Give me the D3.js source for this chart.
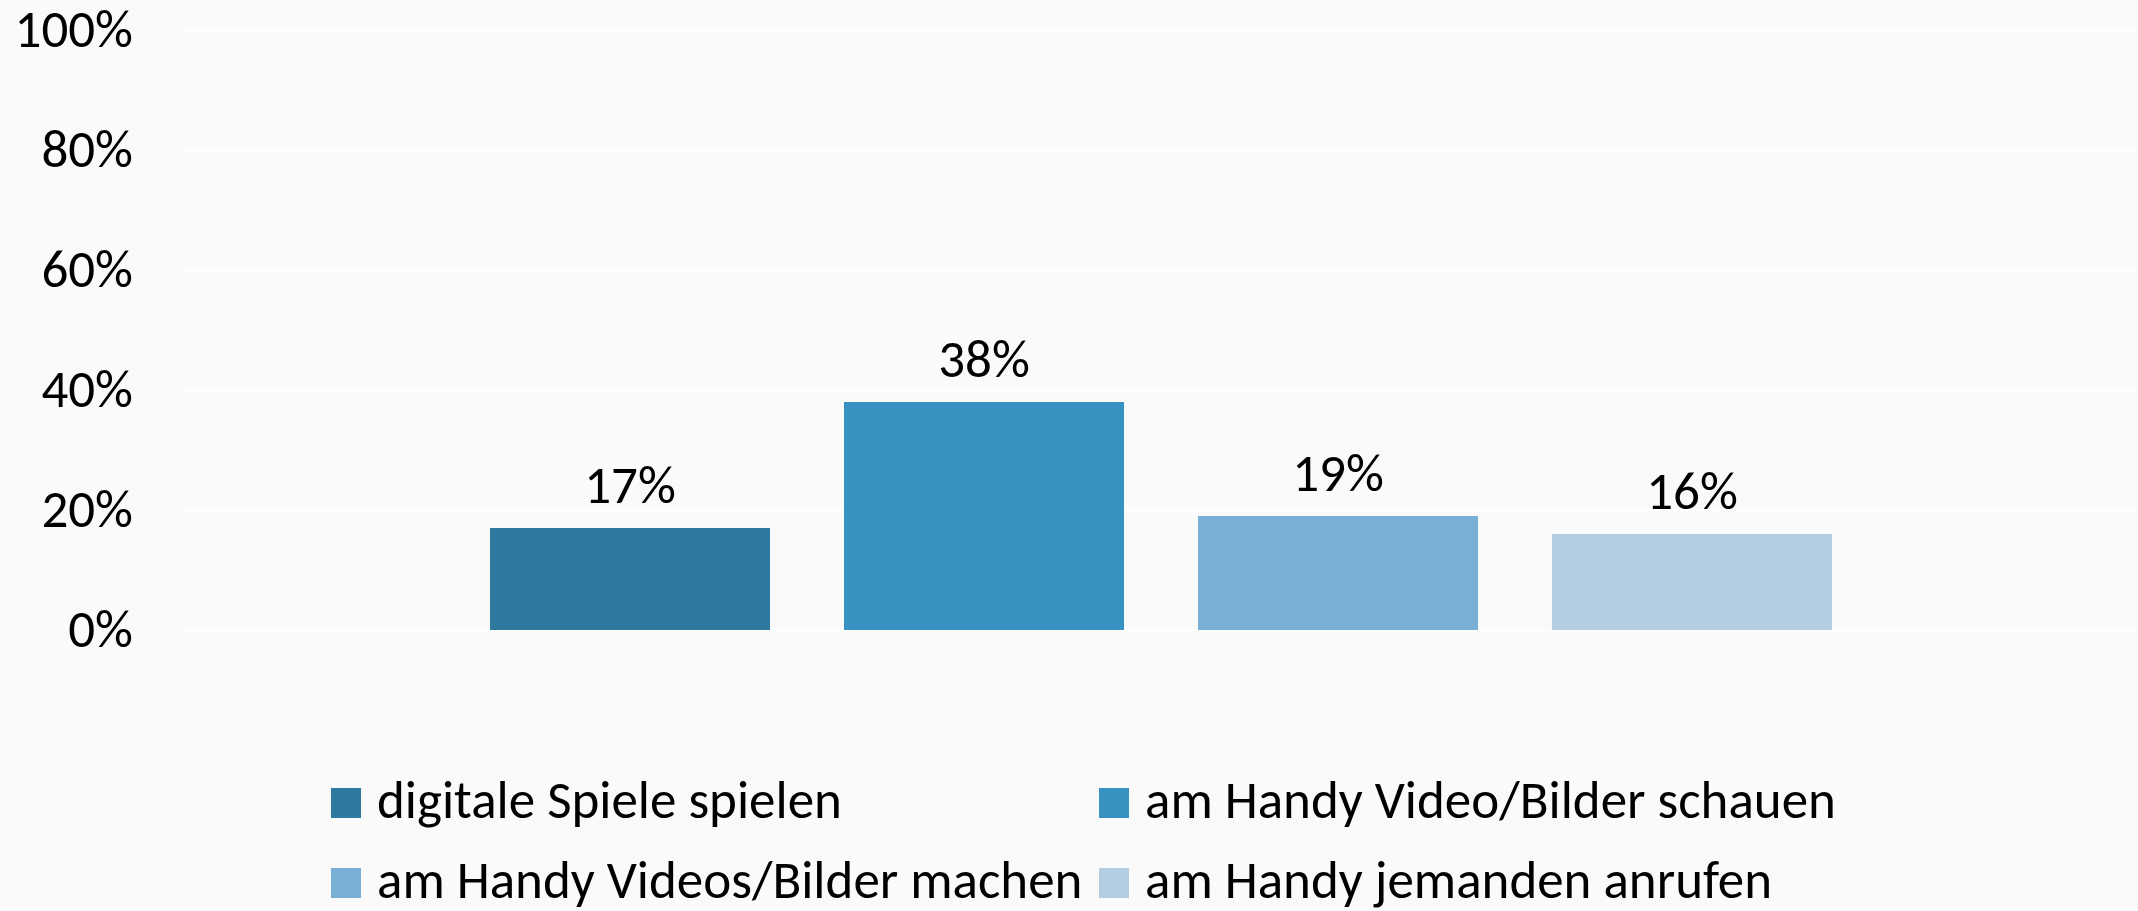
<!DOCTYPE html>
<html>
<head>
<meta charset="utf-8">
<script src="https://cdn.jsdelivr.net/npm/d3@7"></script>
<style>
  html, body { margin: 0; padding: 0; background: #fafafa; }
  svg { display: block; font-family: Carlito, Calibri, Lato, sans-serif; }
</style>
</head>
<body>
<div id="chart"></div>
<script>
// categorie e valori (quota in percentuale)
const categorie = [
  'digitale Spiele spielen',
  'am Handy Video/Bilder schauen',
  'am Handy Videos/Bilder machen',
  'am Handy jemanden anrufen'
];
const valori = [0.17, 0.38, 0.19, 0.16];
const colori = ['#2e79a0', '#3792c1', '#79afd5', '#b3cde3'];
const tickY = [0, 0.2, 0.4, 0.6, 0.8, 1];

const width = 2138, height = 911;
const margin = { top: 30, right: 0, bottom: 281, left: 184 };
const fontSize = 53;

const svg = d3.select('#chart').append('svg')
  .attr('width', width)
  .attr('height', height);

svg.append('rect')
  .attr('width', width).attr('height', height)
  .attr('fill', '#fafafa');

const x = d3.scaleBand()
  .domain(categorie)
  .range([margin.left, width - margin.right])
  .paddingInner(0.209)
  .paddingOuter(0.8645);

const y = d3.scaleLinear()
  .domain([0, 1])
  .range([height - margin.bottom, margin.top]);

// griglia orizzontale bianca
svg.append('g')
  .selectAll('line')
  .data(tickY)
  .join('line')
  .attr('x1', margin.left).attr('x2', width)
  .attr('y1', d => y(d)).attr('y2', d => y(d))
  .attr('stroke', '#ffffff')
  .attr('stroke-width', 1.5);

// asse y solo etichette
const asseY = svg.append('g')
  .attr('transform', `translate(${margin.left},0)`)
  .call(d3.axisLeft(y).tickValues(tickY).tickFormat(d3.format('.0%')).tickSize(0).tickPadding(51));
asseY.select('.domain').remove();
asseY.selectAll('text')
  .attr('font-family', 'Carlito, Calibri, Lato, sans-serif')
  .attr('font-size', fontSize)
  .attr('fill', '#000');

// barre
svg.append('g')
  .selectAll('rect')
  .data(valori)
  .join('rect')
  .attr('x', (d, i) => x(categorie[i]))
  .attr('y', d => y(d))
  .attr('width', x.bandwidth())
  .attr('height', d => y(0) - y(d))
  .attr('fill', (d, i) => colori[i]);

// etichette sopra le barre
svg.append('g')
  .selectAll('text')
  .data(valori)
  .join('text')
  .attr('x', (d, i) => x(categorie[i]) + x.bandwidth() / 2)
  .attr('y', d => y(d) - 25)
  .attr('text-anchor', 'middle')
  .attr('font-size', fontSize)
  .attr('fill', '#000')
  .text(d => d3.format('.0%')(d));

// legenda 2x2 (alzata di poco per non tagliare i discendenti)
const legenda = svg.append('g')
  .attr('transform', 'translate(331,788)');

categorie.forEach((c, i) => {
  const riga = legenda.append('g')
    .attr('transform', `translate(${(i % 2) * 768}, ${Math.floor(i / 2) * 80})`);
  riga.append('rect')
    .attr('width', 30).attr('height', 30)
    .attr('fill', colori[i]);
  riga.append('text')
    .attr('x', 46).attr('y', 30)
    .attr('font-size', fontSize)
    .attr('fill', '#000')
    .text(c);
});
</script>
</body>
</html>
